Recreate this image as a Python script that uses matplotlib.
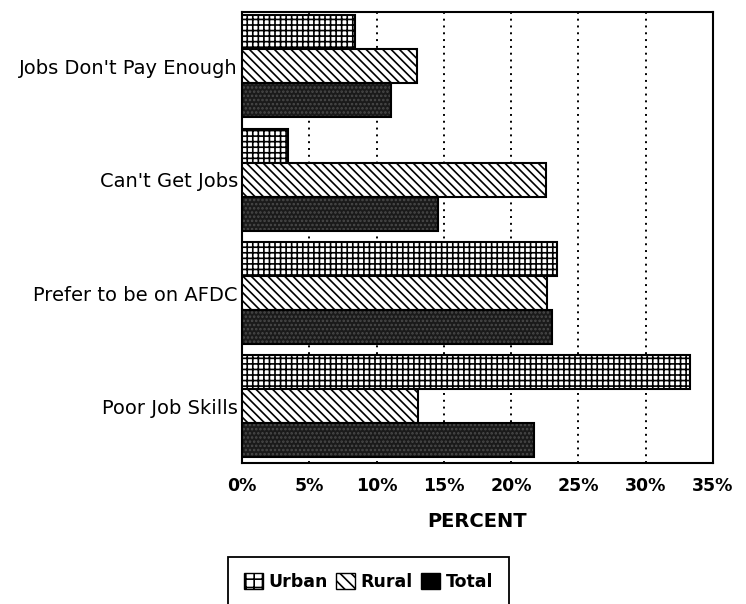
#!/usr/bin/env python3
import matplotlib
matplotlib.use("Agg")
import matplotlib.pyplot as plt
import matplotlib.patches as mpatches
import numpy as np

plt.rcParams['font.family'] = ['DejaVu Sans']
plt.rcParams['hatch.linewidth'] = 1.2

categories = ["Jobs Don't Pay Enough", "Can't Get Jobs", "Prefer to be on AFDC", "Poor Job Skills"]
urban = [8.4, 3.4, 23.4, 33.3]
rural = [13.0, 22.6, 22.7, 13.1]
total = [11.1, 14.6, 23.0, 21.7]
xticks = [0, 5, 10, 15, 20, 25, 30, 35]

fig = plt.figure(figsize=(7.46, 6.04), dpi=100)
ax = fig.add_axes([242/746, 1 - 463/604, (713 - 242)/746, (463 - 12)/604])

y = np.arange(len(categories))
h = 0.30

# Urban: grid hatch
ax.barh(y - h, urban, height=h, color='white', edgecolor='black', hatch='+++', linewidth=1.5, zorder=3)
# Rural: diagonal hatch
ax.barh(y, rural, height=h, color='white', edgecolor='black', hatch='\\\\\\\\', linewidth=1.5, zorder=3)
# Total: dark speckled
ax.barh(y + h, total, height=h, color='#1a1a1a', edgecolor='#4a4a4a', hatch='....', linewidth=0, zorder=3)
ax.barh(y + h, total, height=h, fill=False, edgecolor='black', linewidth=1.5, zorder=4)

ax.set_xlim(0, 35)
ax.set_ylim(3.5, -0.48)
ax.set_yticks(y)
ax.set_yticklabels(categories, fontsize=14)
ax.set_xticks(xticks)
ax.set_xticklabels([f"{t}%" for t in xticks], fontsize=12.5, fontweight='bold')
ax.tick_params(axis='both', length=0)
ax.tick_params(axis='y', pad=3)
ax.tick_params(axis='x', pad=10)

for t in xticks[1:-1]:
    ax.axvline(t, color='black', linestyle=(0, (1, 2.5)), linewidth=1.4, zorder=1)

for s in ax.spines.values():
    s.set_linewidth(1.5)

ax.set_xlabel("PERCENT", fontsize=14, fontweight='bold', labelpad=12)

handles = [
    mpatches.Patch(facecolor='white', edgecolor='black', hatch='++', label='Urban'),
    mpatches.Patch(facecolor='white', edgecolor='black', hatch='\\\\\\', label='Rural'),
    mpatches.Patch(facecolor='black', edgecolor='black', label='Total'),
]
leg = fig.legend(handles=handles, loc='upper left', bbox_to_anchor=(228/746, 1 - 557/604),
                 ncol=3, prop={'weight': 'bold', 'size': 12.5}, borderaxespad=0,
                 handlelength=1.1, handleheight=1.1, handletextpad=0.3, columnspacing=0.5,
                 borderpad=0.9, fancybox=False, edgecolor='black', framealpha=1)
leg.get_frame().set_linewidth(1.3)

fig.savefig("out.png", dpi=100)
